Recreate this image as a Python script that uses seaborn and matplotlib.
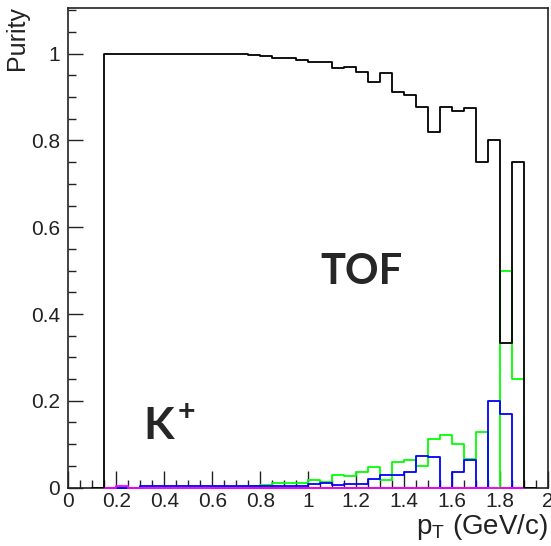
import numpy as np
import pandas as pd
import seaborn as sns
import matplotlib
matplotlib.use("Agg")
import matplotlib.pyplot as plt
from matplotlib.ticker import MultipleLocator, FuncFormatter

# Bins: 0.05 GeV/c wide, lower edges from 0.15 to 1.85
pt_low = np.round(np.arange(0.15, 1.90, 0.05), 2)

# Purity per bin
purity_tof = [1.0, 1.0, 1.0, 1.0, 1.0, 1.0, 1.0, 1.0, 1.0, 1.0, 1.0, 1.0,
              0.998, 0.995, 0.990, 0.990, 0.986, 0.981, 0.981, 0.966, 0.970,
              0.958, 0.934, 0.955, 0.912, 0.905, 0.878, 0.819, 0.878, 0.867,
              0.875, 0.750, 0.801, 0.333, 0.750]
contam_green = [0.0, 0.001, 0.0, 0.0, 0.0, 0.0, 0.0, 0.0, 0.0, 0.002, 0.002,
                0.002, 0.003, 0.0065, 0.0096, 0.0096, 0.011, 0.017, 0.012,
                0.030, 0.027, 0.035, 0.048, 0.017, 0.060, 0.063, 0.050, 0.112,
                0.121, 0.100, 0.065, 0.127, 0.0, 0.498, 0.251]
contam_blue = [0.0, 0.0, 0.0, 0.003, 0.003, 0.003, 0.003, 0.003, 0.003, 0.003,
               0.003, 0.003, 0.003, 0.003, 0.003, 0.003, 0.003, 0.009, 0.011,
               0.007, 0.009, 0.009, 0.020, 0.030, 0.030, 0.036, 0.073, 0.070,
               0.0, 0.036, 0.063, 0.0, 0.200, 0.169, 0.0]
contam_magenta = [0.0, 0.003] + [0.0] * 33

sns.set_style("ticks")
plt.rcParams["font.family"] = ["Liberation Sans", "DejaVu Sans"]
plt.rcParams["mathtext.fontset"] = "custom"
plt.rcParams["mathtext.rm"] = "Liberation Sans"
plt.rcParams["mathtext.it"] = "Liberation Sans"

df = pd.DataFrame({
    "pt": pt_low + 0.025,
    "tof": purity_tof,
    "green": contam_green,
    "blue": contam_blue,
    "magenta": contam_magenta,
})

edges = [round(v, 2) for v in np.arange(0.15, 1.9001, 0.05)]
edges_pad = [round(v, 2) for v in np.arange(0.10, 1.9501, 0.05)]

fig = plt.figure(figsize=(5.51, 5.46), dpi=100)
ax = fig.add_axes([0.124, 0.107, 0.8706, 0.8782])

for col, colr in [("green", "#00ff00"), ("blue", "#0000ff"), ("magenta", "#ff00ff")]:
    sns.histplot(data=df, x="pt", weights=col, bins=edges, element="step",
                 fill=False, color=colr, linewidth=1.3, ax=ax, zorder=3,
                 clip_on=False)
sns.histplot(data=df, x="pt", weights="tof", bins=edges_pad, element="step",
             fill=False, color="black", linewidth=1.3, ax=ax, zorder=4)

ax.set_xlim(0, 2)
ax.set_ylim(0, 1.105)

ax.xaxis.set_major_locator(MultipleLocator(0.2))
ax.xaxis.set_minor_locator(MultipleLocator(0.05))
ax.yaxis.set_major_locator(MultipleLocator(0.2))
ax.yaxis.set_minor_locator(MultipleLocator(0.05))
fmt = FuncFormatter(lambda v, p: f"{v:g}")
ax.xaxis.set_major_formatter(fmt)
ax.yaxis.set_major_formatter(fmt)

ax.tick_params(axis="both", which="both", direction="in", top=False, right=False,
               width=1, color="#222222", labelsize=15, labelcolor="#222222")
ax.tick_params(axis="x", which="major", length=12, pad=3)
ax.tick_params(axis="x", which="minor", length=6)
ax.tick_params(axis="y", which="major", length=11, pad=6)
ax.tick_params(axis="y", which="minor", length=5.5)

for sp in ax.spines.values():
    sp.set_visible(True)
    sp.set_linewidth(1.2)
    sp.set_color("#222222")

ax.set_ylabel("Purity", fontsize=18, loc="top", color="#222222")
ax.yaxis.set_label_coords(-0.082, 1.005)
ax.set_xlabel(r"p$_{\mathrm{T}}$ (GeV/c)", fontsize=20, loc="right", color="#222222")
ax.xaxis.set_label_coords(1.0, -0.05)

ax.text(1.222, 0.497, "TOF", fontsize=30, fontweight="bold", family="Lato",
        ha="center", va="center")
ax.text(0.311, 0.112, "K", fontsize=32, fontweight="bold", family="Lato",
        ha="left", va="baseline")
ax.text(0.455, 0.175, "+", fontsize=22, fontweight="bold", family="Lato",
        ha="left", va="center")

fig.savefig("out.png", dpi=100)
